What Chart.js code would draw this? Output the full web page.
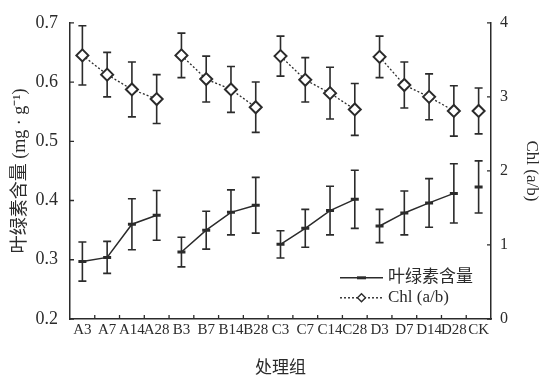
<!DOCTYPE html>
<html>
<head>
<meta charset="utf-8">
<script src="https://cdn.jsdelivr.net/npm/chart.js@4.4.1/dist/chart.umd.min.js"></script>
<style>
  html, body { margin: 0; padding: 0; background: #fff; }
  #wrap { width: 549px; height: 379px; }
</style>
</head>
<body>
<div id="wrap"><canvas id="myChart"></canvas></div>
<script>
// data
var categories = ["A3", "A7", "A14", "A28", "B3", "B7", "B14", "B28", "C3", "C7", "C14", "C28", "D3", "D7", "D14", "D28", "CK"];
var chlContent = [0.297, 0.304, 0.360, 0.375, 0.313, 0.350, 0.380, 0.392, 0.326, 0.353, 0.383, 0.402, 0.357, 0.379, 0.396, 0.412, 0.423];
var chlContentErr = [0.033, 0.027, 0.043, 0.042, 0.025, 0.032, 0.038, 0.047, 0.023, 0.032, 0.041, 0.049, 0.028, 0.037, 0.041, 0.050, 0.044];
var chlRatio = [3.56, 3.30, 3.10, 2.97, 3.56, 3.24, 3.10, 2.86, 3.55, 3.23, 3.05, 2.83, 3.54, 3.16, 3.00, 2.81, 2.81];
var chlRatioErr = [0.40, 0.30, 0.37, 0.33, 0.30, 0.31, 0.31, 0.34, 0.27, 0.30, 0.35, 0.35, 0.28, 0.31, 0.31, 0.34, 0.31];
var leftTicks = [0.2, 0.3, 0.4, 0.5, 0.6, 0.7];
var rightTicks = [0, 1, 2, 3, 4];
var seriesNames = ["叶绿素含量", "Chl (a/b)"];

var ink = "#2b2b2b";
var serif = "'Liberation Serif', 'Noto Sans CJK SC', serif";

// no line between different treatment groups
function groupGap(ctx) {
    return categories[ctx.p0DataIndex][0] !== categories[ctx.p1DataIndex][0];
}

var extras = {
    id: "extras",
    beforeDatasetsDraw: function (chart) {
        var ctx = chart.ctx;
        var x = chart.scales.x;
        var sets = [[chart.scales.y, chlContent, chlContentErr], [chart.scales.y1, chlRatio, chlRatioErr]];
        ctx.save();
        ctx.strokeStyle = ink;
        ctx.lineWidth = 1.6;
        sets.forEach(function (s) {
            for (var i = 0; i < categories.length; i++) {
                var px = x.getPixelForValue(i);
                var top = s[0].getPixelForValue(s[1][i] + s[2][i]);
                var bot = s[0].getPixelForValue(s[1][i] - s[2][i]);
                ctx.beginPath();
                ctx.moveTo(px, top); ctx.lineTo(px, bot);
                ctx.moveTo(px - 4, top); ctx.lineTo(px + 4, top);
                ctx.moveTo(px - 4, bot); ctx.lineTo(px + 4, bot);
                ctx.stroke();
            }
        });
        ctx.restore();
    },
    afterDraw: function (chart) {
        var ctx = chart.ctx;
        var a = chart.chartArea;
        var x = chart.scales.x, y = chart.scales.y, y1 = chart.scales.y1;
        ctx.save();
        ctx.strokeStyle = ink;
        ctx.lineWidth = 1.3;
        ctx.beginPath();
        // inward ticks
        leftTicks.forEach(function (v) {
            var py = y.getPixelForValue(v);
            ctx.moveTo(a.left, py); ctx.lineTo(a.left + 4, py);
        });
        rightTicks.forEach(function (v) {
            var py = y1.getPixelForValue(v);
            ctx.moveTo(a.right, py); ctx.lineTo(a.right - 4, py);
        });
        for (var i = 1; i < categories.length; i++) {
            var px = (x.getPixelForValue(i - 1) + x.getPixelForValue(i)) / 2;
            ctx.moveTo(px, a.bottom); ctx.lineTo(px, a.bottom - 4);
        }
        ctx.stroke();

        // legend
        var lx = a.left + 270, ly = a.top + 255;
        ctx.font = "17px " + serif;
        ctx.fillStyle = ink;
        ctx.textBaseline = "middle";
        ctx.lineWidth = 1.4;
        ctx.beginPath();
        ctx.moveTo(lx, ly); ctx.lineTo(lx + 43, ly);
        ctx.stroke();
        ctx.lineWidth = 3;
        ctx.beginPath();
        ctx.moveTo(lx + 17, ly); ctx.lineTo(lx + 26, ly);
        ctx.stroke();
        ctx.fillText(seriesNames[0], lx + 48, ly);

        var ly2 = ly + 20;
        ctx.lineWidth = 1.4;
        ctx.setLineDash([2, 2]);
        ctx.beginPath();
        ctx.moveTo(lx, ly2); ctx.lineTo(lx + 43, ly2);
        ctx.stroke();
        ctx.setLineDash([]);
        ctx.fillStyle = "#fff";
        ctx.beginPath();
        ctx.moveTo(lx + 21.5, ly2 - 4); ctx.lineTo(lx + 25.5, ly2);
        ctx.lineTo(lx + 21.5, ly2 + 4); ctx.lineTo(lx + 17.5, ly2);
        ctx.closePath();
        ctx.fill(); ctx.stroke();
        ctx.fillStyle = ink;
        ctx.fillText(seriesNames[1], lx + 48, ly2);
        ctx.restore();
    }
};

new Chart("myChart", {
    type: "line",
    data: {
        labels: categories,
        datasets: [{
            label: seriesNames[0],
            data: chlContent,
            yAxisID: "y",
            borderColor: ink,
            borderWidth: 1.5,
            pointStyle: "line",
            pointRadius: 4,
            pointBorderWidth: 3,
            pointBorderColor: ink,
            tension: 0,
            segment: { borderColor: function (ctx) { return groupGap(ctx) ? "rgba(0,0,0,0)" : ink; } }
        }, {
            label: seriesNames[1],
            data: chlRatio,
            yAxisID: "y1",
            borderColor: ink,
            borderWidth: 1.3,
            borderDash: [2, 2],
            pointStyle: "rectRot",
            pointRadius: 6,
            pointBorderWidth: 2,
            pointBackgroundColor: "#fff",
            pointBorderColor: ink,
            tension: 0,
            segment: { borderColor: function (ctx) { return groupGap(ctx) ? "rgba(0,0,0,0)" : ink; } }
        }]
    },
    options: {
        responsive: true,
        maintainAspectRatio: false,
        animation: false,
        events: [],
        layout: { padding: { top: 19, bottom: 0, left: 0, right: 0 } },
        plugins: { legend: { display: false }, tooltip: { enabled: false } },
        scales: {
            x: {
                type: "category",
                offset: true,
                grid: { display: false, drawTicks: false },
                border: { display: true, color: ink, width: 1.5 },
                ticks: { autoSkip: false, maxRotation: 0, minRotation: 0, padding: 2, color: ink, font: { family: serif, size: 15 } },
                title: { display: true, text: "处理组", color: ink, font: { family: serif, size: 17 }, padding: { top: 0, bottom: 0 } },
                afterFit: function (s) { s.height = 60; }
            },
            y: {
                position: "left",
                min: 0.2, max: 0.7,
                afterBuildTicks: function (s) { s.ticks = leftTicks.map(function (v) { return { value: v }; }); },
                grid: { display: false, drawTicks: false },
                border: { display: true, color: ink, width: 1.5 },
                ticks: { padding: 12, color: ink, font: { family: serif, size: 18 }, callback: function (v) { return v.toFixed(1); } },
                title: { display: true, text: "叶绿素含量 (mg · g⁻¹)", color: ink, font: { family: serif, size: 18 }, padding: { top: 9, bottom: 0 } },
                afterFit: function (s) { s.width = 70; }
            },
            y1: {
                position: "right",
                min: 0, max: 4,
                afterBuildTicks: function (s) { s.ticks = rightTicks.map(function (v) { return { value: v }; }); },
                grid: { display: false, drawTicks: false },
                border: { display: true, color: ink, width: 1.5 },
                ticks: { padding: 9, color: ink, font: { family: serif, size: 16 } },
                title: { display: true, text: "Chl (a/b)", color: ink, font: { family: serif, size: 17 }, padding: { top: 7, bottom: 0 } },
                afterFit: function (s) { s.width = 58; }
            }
        }
    },
    plugins: [extras]
});
</script>
</body>
</html>
